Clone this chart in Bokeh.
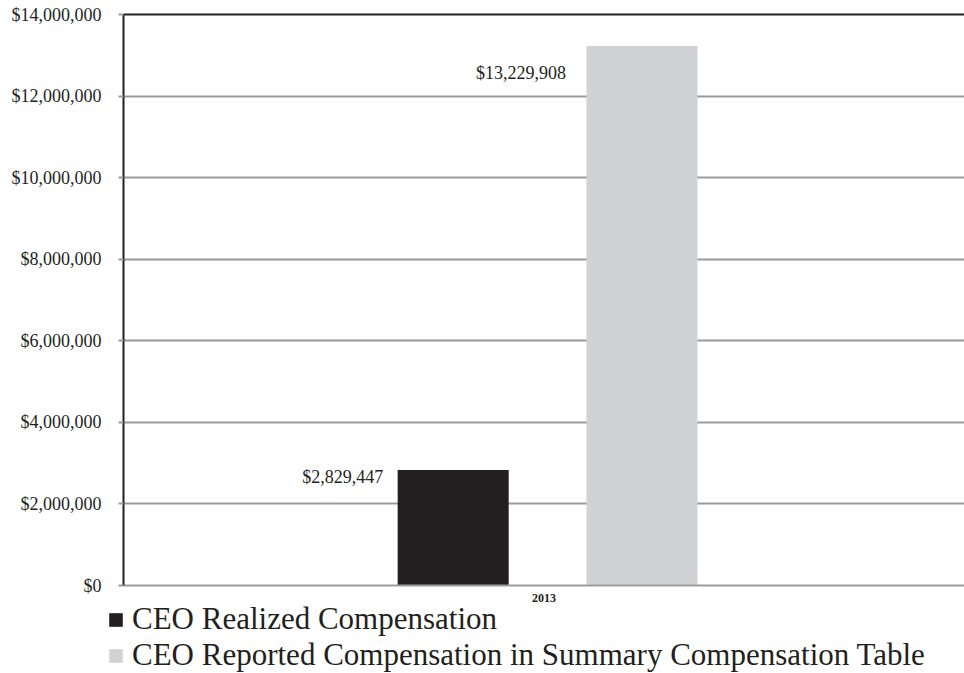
from bokeh.plotting import figure
from bokeh.models import (ColumnDataSource, FactorRange, Range1d, NumeralTickFormatter,
                          LinearAxis, Legend, LegendItem, FixedTicker)
from bokeh.transform import dodge
from bokeh.core.properties import value
from bokeh.embed import file_html
from bokeh.resources import INLINE

# ---- data ----
years = ["2013"]
series_names = ["CEO Realized Compensation",
                "CEO Reported Compensation in Summary Compensation Table"]
realized = [2829447]
reported = [13229908]
realized_labels = ["$2,829,447"]
reported_labels = ["$13,229,908"]
y_ticks = [0, 2000000, 4000000, 6000000, 8000000, 10000000, 12000000, 14000000]

FONT = "Liberation Serif"
DARK = "#231f20"
LIGHT = "#d1d2d4"
GRID = "#9b9b9b"

src = ColumnDataSource(dict(year=years, realized=realized, reported=reported,
                            rl=realized_labels, pl=reported_labels))

MAIN_H = 604
p = figure(width=964, height=MAIN_H, x_range=FactorRange(*years, range_padding=0),
           y_range=Range1d(0, 14000000), output_backend="svg", toolbar_location=None,
           min_border_left=123, min_border_right=0, min_border_top=14,
           min_border_bottom=MAIN_H - 585)
p.outline_line_color = None

W = 0.132
OFF1 = -0.108
OFF2 = 0.1165
r1 = p.vbar(x=dodge("year", OFF1, range=p.x_range), top="realized", width=W, source=src,
            fill_color=DARK, line_color=None)
r2 = p.vbar(x=dodge("year", OFF2, range=p.x_range), top="reported", width=W, source=src,
            fill_color=LIGHT, line_color=None)

p.text(x=dodge("year", OFF1, range=p.x_range), y="realized", text="rl", source=src,
       x_offset=-70, y_offset=7, text_align="right", text_baseline="middle",
       text_font=value(FONT), text_font_size="18px", text_color=DARK)
p.text(x=dodge("year", OFF2, range=p.x_range), y="reported", text="pl", source=src,
       x_offset=-76, y_offset=27, text_align="right", text_baseline="middle",
       text_font=value(FONT), text_font_size="18px", text_color=DARK)

# y axis
ya = p.yaxis[0]
ya.ticker = FixedTicker(ticks=y_ticks)
ya.formatter = NumeralTickFormatter(format="$0,0")
ya.major_label_text_font = FONT
ya.major_label_text_font_size = "18px"
ya.major_label_text_color = DARK
ya.axis_line_color = DARK
ya.axis_line_width = 2
ya.major_tick_line_color = GRID
ya.major_tick_line_width = 2
ya.major_tick_out = 5
ya.major_tick_in = 0
ya.minor_tick_line_color = None
ya.major_label_standoff = 17

# x axis
xa = p.xaxis[0]
xa.axis_line_color = GRID
xa.axis_line_width = 2
xa.major_tick_line_color = None
xa.minor_tick_line_color = None
xa.major_label_text_font = FONT
xa.major_label_text_font_size = "12px"
xa.major_label_text_font_style = "bold"
xa.major_label_text_color = DARK
xa.major_label_standoff = 2

# top border line
top = LinearAxis(ticker=FixedTicker(ticks=[]), major_label_text_font_size="0px",
                 axis_line_color=DARK, axis_line_width=2,
                 major_tick_line_color=None, minor_tick_line_color=None)
p.add_layout(top, "above")

p.xgrid.grid_line_color = None
p.ygrid.grid_line_color = GRID
p.ygrid.grid_line_width = 2
p.ygrid.ticker = FixedTicker(ticks=y_ticks)

# ---- legend strip ----
LEG_H = 673 - MAIN_H
lf = figure(width=964, height=LEG_H, x_range=Range1d(0, 1), y_range=Range1d(0, 1),
            output_backend="svg", toolbar_location=None,
            min_border_left=0, min_border_right=0, min_border_top=0, min_border_bottom=0)
lf.axis.visible = False
lf.grid.visible = False
lf.outline_line_color = None
hidden = ColumnDataSource(dict(x=[-10.0], top=[-10.0]))
l1 = lf.vbar(x="x", top="top", width=0.1, source=hidden, fill_color=DARK, line_color=None)
l2 = lf.vbar(x="x", top="top", width=0.1, source=hidden, fill_color=LIGHT, line_color=None)

legend = Legend(items=[LegendItem(label=series_names[0], renderers=[l1]),
                       LegendItem(label=series_names[1], renderers=[l2])],
                location=(107, 0), orientation="vertical",
                label_text_font=FONT, label_text_font_size="31px", label_text_color=DARK,
                glyph_width=17, glyph_height=17, label_standoff=8, spacing=0,
                padding=0, margin=0, background_fill_alpha=0, border_line_color=None,
                label_height=34)
lf.add_layout(legend, "center")

open("out.html", "w").write(file_html([p, lf], INLINE))
